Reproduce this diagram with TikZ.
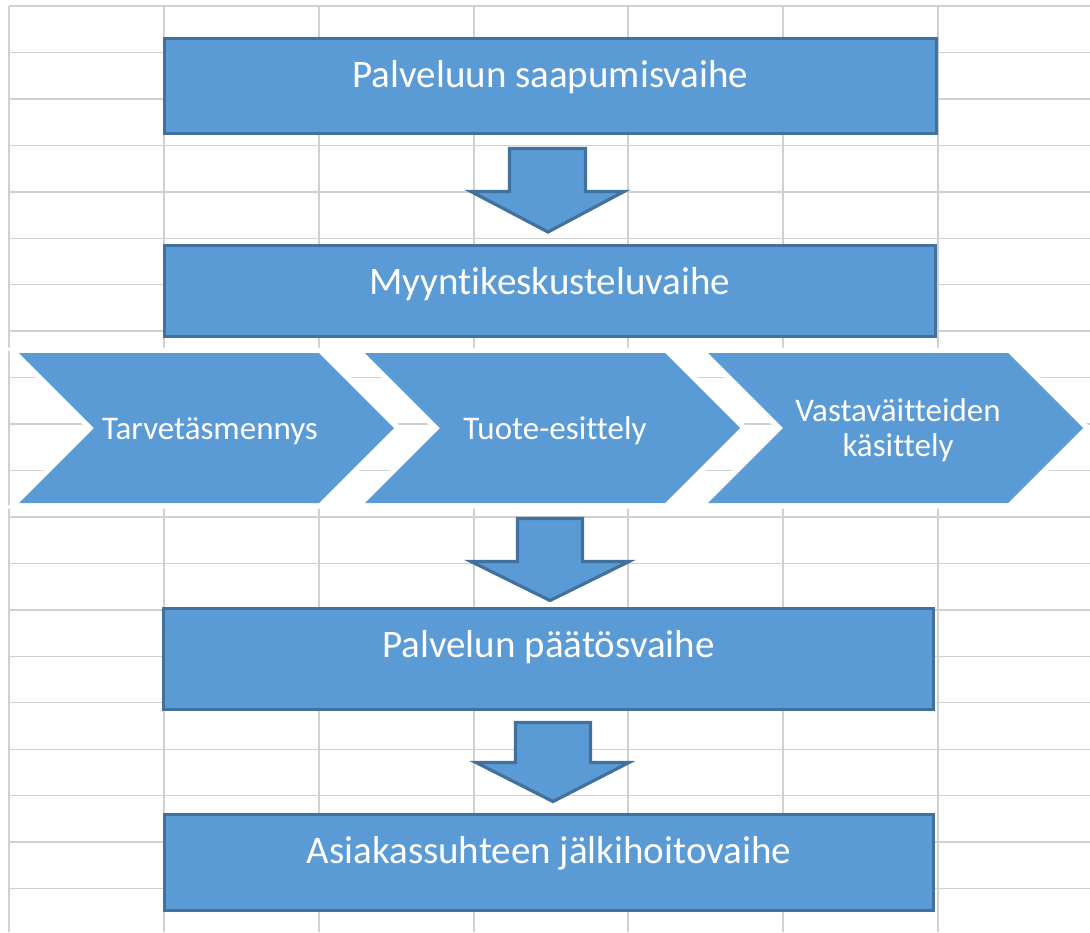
\documentclass[tikz,border=0pt]{standalone}
\usepackage{fontspec}
\setmainfont[Ligatures={NoCommon}]{Carlito}
\definecolor{boxfill}{HTML}{5B9BD5}
\definecolor{boxline}{HTML}{41719C}
\definecolor{gridgray}{HTML}{D0D0D0}
\tikzset{
  gridline/.style={draw=gridgray, line width=1.4pt},
  stagebox/.style={draw=boxline, fill=boxfill, line width=3.2pt, inner sep=0pt,
    text=white, font=\fontsize{39}{41}\selectfont, text height=48.5pt},
  blockarrow/.style={draw=boxline, fill=boxfill, line width=3.2pt, line join=miter},
  chevwhite/.style={draw=white, line width=11pt, line join=miter},
  chevfill/.style={fill=boxfill},
  chevtext/.style={text=white, font=\fontsize{33}{35}\selectfont, inner sep=0pt, align=center}
}
\begin{document}
\begin{tikzpicture}[x=1pt,y=-1pt]
\useasboundingbox[fill=white] (0,0) rectangle (1090,932);
% spreadsheet grid
\foreach \x in {9,164,319,474,628,783,938}
  \draw[gridline] (\x,6) -- (\x,932);
\foreach \k in {0,...,19}
  \draw[gridline] (9,{6+46.45*\k}) -- (1090,{6+46.45*\k});

% stage boxes
\node[stagebox, minimum width=772pt, minimum height=95pt, text depth=46.5pt] (b1) at (550.5,86) {Palveluun saapumisvaihe};
\node[stagebox, minimum width=771pt, minimum height=91pt, text depth=42.5pt] (b2) at (550,291) {Myyntikeskusteluvaihe};
\node[stagebox, minimum width=770pt, minimum height=101pt, text depth=52.5pt] (b3) at (548.5,659) {Palvelun päätösvaihe};
\node[stagebox, minimum width=769pt, minimum height=96pt, text depth=46.5pt] (b4) at (549,862.5) {Asiakassuhteen jälkihoitovaihe};

% block arrows
\draw[blockarrow] (509.5,148.5) -- (585.5,148.5) -- (585.5,191.5) -- (624,191.5) -- (548,232) -- (471,191.5) -- (509.5,191.5) -- cycle;
\draw[blockarrow] (517.5,518.5) -- (582.5,518.5) -- (582.5,561.5) -- (629,561.5) -- (550,600.5) -- (471,561.5) -- (517.5,561.5) -- cycle;
\draw[blockarrow] (515.5,722.5) -- (590.5,722.5) -- (590.5,762.5) -- (629,762.5) -- (553,801.5) -- (476,762.5) -- (515.5,762.5) -- cycle;

% chevrons
\foreach \a in {19,365,708}{
  \draw[chevwhite] (\a,353) -- ++(300,0) -- ++(75,75) -- ++(-75,75) -- ++(-300,0) -- ++(75,-75) -- cycle;
}
\foreach \a in {19,365,708}{
  \fill[chevfill] (\a,353) -- ++(300,0) -- ++(75,75) -- ++(-75,75) -- ++(-300,0) -- ++(75,-75) -- cycle;
}
\node[chevtext, anchor=base] (c1) at (210,439) {Tarvetäsmennys};
\node[chevtext, anchor=base] (c2) at (555,439) {Tuote-esittely};
\node[chevtext, anchor=base] (c3) at (898,456) {Vastaväitteiden\\käsittely};
\end{tikzpicture}
\end{document}
